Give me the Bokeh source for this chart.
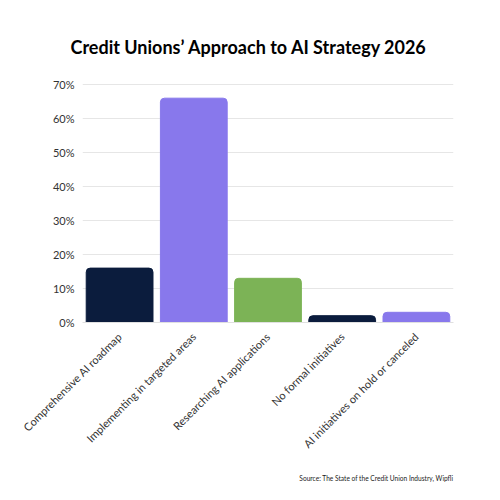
from bokeh.plotting import figure
from bokeh.models import ColumnDataSource, Range1d, Title, FixedTicker, CustomJSTickFormatter
from bokeh.embed import file_html
from bokeh.resources import INLINE
import math

categories = [
    "Comprehensive AI roadmap",
    "Implementing in targeted areas",
    "Researching AI applications",
    "No formal initiatives",
    "AI initiatives on hold or canceled",
]
values = [16, 66, 13, 2, 3]
colors = ["#0b1c3d", "#8878ec", "#7cb356", "#0b1c3d", "#8878ec"]
y_ticks = [0, 10, 20, 30, 40, 50, 60, 70]

title_text = "Credit Unions\u2019 Approach to AI Strategy 2026"
source_text = "Source: The State of the Credit Union Industry, Wipfli"

src = ColumnDataSource(dict(cat=categories, val=values, color=colors))

p = figure(
    x_range=categories,
    y_range=Range1d(0, 71.2),
    width=500, height=500,
    output_backend="svg",
    toolbar_location=None,
    min_border_left=82, min_border_right=47,
    min_border_top=80, min_border_bottom=178,
)
p.title.text = title_text
p.title.align = "left"
p.title.offset = -12
p.title.text_font = "Lato"
p.title.text_font_style = "bold"
p.title.text_font_size = "18px"
p.title.text_color = "#000000"
p.title.standoff = 10

# invisible spacer between the title and the plot frame
p.add_layout(Title(text=" ", text_font_size="14px", standoff=0), "above")

p.outline_line_color = None
p.background_fill_color = "white"
p.border_fill_color = "white"

p.vbar(x="cat", top="val", width=0.9, color="color", source=src,
       border_radius=(4, 4, 0, 0))

p.xgrid.grid_line_color = None
p.ygrid.grid_line_color = "#e6e6e6"
p.ygrid.grid_line_width = 1
p.yaxis.ticker = FixedTicker(ticks=y_ticks)
p.yaxis.formatter = CustomJSTickFormatter(code="return tick + '%';")
p.yaxis.axis_line_color = None
p.yaxis.major_tick_line_color = None
p.yaxis.minor_tick_line_color = None
p.yaxis.major_label_text_font = "Lato"
p.yaxis.major_label_text_font_size = "11px"
p.yaxis.major_label_text_color = "#333333"
p.yaxis.major_label_standoff = 2

p.xaxis.axis_line_color = "#e0e0e0"
p.xaxis.major_tick_line_color = None
p.xaxis.minor_tick_line_color = None
p.xaxis.major_label_orientation = math.pi / 4
p.xaxis.major_label_text_font = "Lato"
p.xaxis.major_label_text_font_size = "11px"
p.xaxis.major_label_text_color = "#333333"
p.xaxis.major_label_standoff = 6

p.add_layout(Title(text=source_text, align="right", offset=0, text_font="Lato",
                   text_font_style="normal", text_font_size="6.6px",
                   text_color="#222222", standoff=29), "below")

open("out.html", "w").write(file_html(p, INLINE))
